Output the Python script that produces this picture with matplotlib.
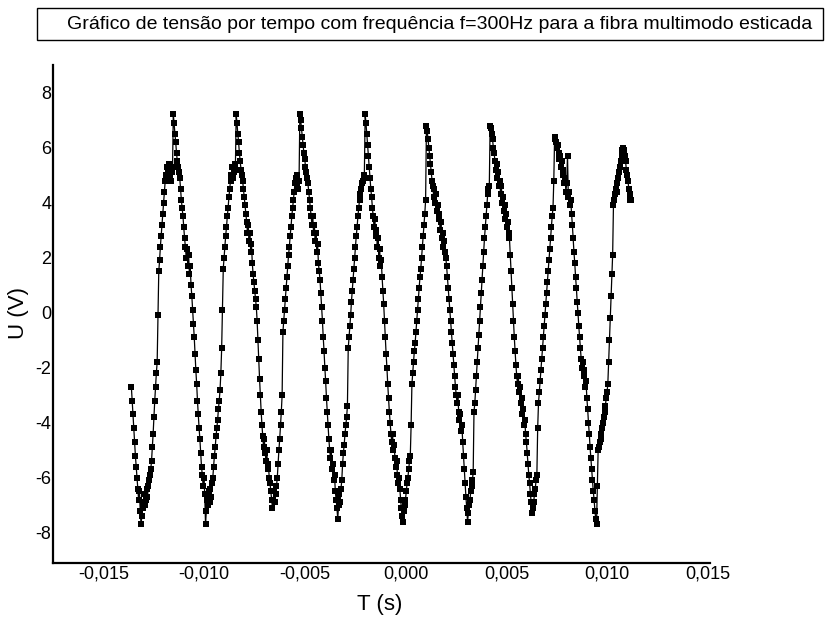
import numpy as np
import matplotlib.pyplot as plt
from matplotlib.patches import Rectangle

# --- data ---
# sampled signal: first sample time and sampling interval (s)
t_start = -0.01361
dt = 0.00004

# voltage samples (V)
u = np.array([
    # start -> trough 1
    -2.7, -3.2, -3.7, -4.2, -4.7, -5.2, -5.6, -6.0, -6.4, -6.8, -6.5, -7.2, -7.7,
    # rise 1
    -7.4, -6.9, -7.1, -6.6, -7.0, -6.8, -6.4, -6.7, -6.3, -6.1, -5.9, -5.7, -5.4,
    -4.9, -4.4, -3.8, -3.2, -2.7, -2.2, -1.8, -0.1, 1.5, 1.9, 2.4, 2.8, 3.2, 3.6,
    4.0, 4.4, 4.8, 5.0, 5.3, 4.9, 5.2, 5.4, 5.0, 4.8, 5.3, 5.1, 7.2,
    # fall 1
    6.9, 6.5, 6.2, 5.8, 5.5, 5.3, 5.1, 4.9, 4.5, 4.1, 3.8, 3.5, 3.1, 2.7, 2.4,
    2.0, 2.3, 1.7, 2.1, 1.4, 1.7, 1.0, 0.6, 0.1, -0.4, -0.9, -1.5, -2.1, -2.6,
    -3.2, -3.7, -4.2, -4.6, -5.1, -5.6, -5.9, -6.3, -6.0, -6.6, -7.7,
    # rise 2
    -7.2, -6.8, -7.0, -6.5, -6.9, -6.4, -6.7, -6.2, -6.0, -5.6, -5.2, -4.9, -4.5,
    -4.2, -3.9, -3.5, -3.2, -2.8, -2.2, -1.3, 0.1, 1.6, 2.0, 2.4, 2.8, 3.1, 3.5,
    3.8, 4.2, 4.5, 4.8, 5.0, 5.3, 4.9, 5.1, 5.4, 5.2, 7.2,
    # fall 2
    6.9, 6.5, 6.2, 5.8, 5.5, 5.2, 5.0, 4.8, 4.5, 4.2, 3.9, 3.6, 3.3, 2.9, 3.2,
    2.6, 2.9, 2.2, 2.5, 1.8, 1.4, 1.1, 0.8, 0.5, 0.2, -0.3, -1.0, -1.7, -2.4,
    -3.0, -3.6, -4.1, -4.5, -4.9, -4.6, -5.1, -5.4, -5.0, -5.7, -5.5, -6.0, -6.2,
    -6.5, -6.8, -7.1,
    # rise 3
    -6.8, -6.5, -6.9, -6.6, -6.3, -6.0, -5.5, -5.0, -4.6, -4.1, -3.6, -3.0, -0.7,
    -0.3, 0.1, 0.5, 0.9, 1.3, 1.7, 2.1, 2.4, 2.8, 3.1, 3.5, 3.8, 4.1, 4.4, 4.7,
    4.9, 4.6, 5.0, 4.5, 4.8, 7.2,
    # fall 3
    7.0, 6.7, 6.4, 6.1, 5.8, 5.6, 5.3, 5.1, 4.9, 4.7, 4.4, 4.1, 3.8, 3.5, 3.2,
    3.5, 2.9, 3.2, 2.6, 2.9, 2.2, 2.5, 1.8, 1.5, 1.2, 0.7, 0.2, -0.3, -0.9, -1.4,
    -2.0, -2.5, -3.1, -3.6, -4.1, -4.6, -5.0, -5.3, -5.0, -5.7, -5.5, -6.1, -5.9,
    -6.5, -6.8, -7.1, -7.5,
    # rise 4
    -7.0, -6.6, -6.9, -6.4, -6.1, -5.5, -5.1, -4.8, -4.4, -4.1, -3.8, -3.4, -1.3,
    -0.9, -0.5, -0.1, 0.4, 0.8, 1.2, 1.6, 2.0, 2.4, 2.8, 3.1, 3.5, 3.8, 4.1, 4.3,
    4.5, 4.7, 4.8, 4.9, 5.0, 7.2,
    # fall 4
    6.9, 6.5, 6.1, 5.7, 5.3, 4.9, 4.5, 4.2, 3.8, 3.5, 3.1, 3.4, 2.8, 3.0, 2.4,
    2.7, 2.0, 2.3, 1.7, 1.9, 1.3, 0.8, 0.3, -0.3, -0.9, -1.5, -2.0, -2.6, -3.1,
    -3.6, -4.0, -4.4, -4.7, -4.4, -5.0, -4.8, -5.3, -5.6, -5.4, -5.9, -6.2, -6.0,
    -6.4, -6.8, -7.1, -7.4, -7.6,
    # rise 5
    -7.2, -7.0, -6.8, -6.5, -6.2, -6.0, -5.7, -5.4, -5.2, -4.1, -2.6, -2.2, -1.8,
    -1.4, -1.1, -0.7, -0.3, 0.1, 0.5, 0.9, 1.3, 1.6, 2.0, 2.4, 2.8, 3.2, 3.6,
    4.1, 6.8,
    # fall 5
    6.6, 6.3, 6.0, 5.7, 5.4, 5.1, 4.8, 4.6, 4.2, 4.5, 4.0, 4.3, 3.7, 3.9, 3.4,
    3.6, 3.0, 3.3, 2.7, 2.9, 2.4, 2.6, 2.2, 2.0, 1.7, 1.3, 0.9, 0.5, 0.1, -0.3,
    -0.7, -1.1, -1.5, -1.9, -2.3, -2.7, -3.0, -3.3, -3.0, -3.6, -3.9, -3.7, -4.3,
    -4.1, -4.7, -5.2, -5.7, -6.2, -6.7, -7.1, -7.6,
    # rise 6
    -7.3, -7.0, -6.8, -6.5, -6.3, -6.1, -5.8, -3.6, -3.3, -2.8, -2.3, -1.8, -1.3,
    -0.8, -0.3, 0.2, 0.7, 1.2, 1.7, 2.2, 2.7, 3.1, 3.5, 3.9, 4.3, 4.5, 4.6, 6.8,
    # fall 6
    6.7, 6.5, 6.3, 6.0, 5.8, 5.5, 5.2, 5.4, 4.9, 5.1, 4.6, 4.8, 4.3, 4.6, 4.0,
    4.2, 3.7, 3.9, 3.4, 3.6, 3.1, 3.3, 2.9, 2.7, 2.1, 1.5, 0.9, 0.3, -0.3, -0.9,
    -1.4, -1.9, -2.3, -2.6, -2.3, -2.9, -2.7, -3.3, -3.1, -3.7, -3.5, -4.1, -3.9,
    -4.4, -4.7, -5.1, -5.5, -5.9, -6.2, -6.6, -6.9, -7.3,
    # rise 7
    -7.1, -6.9, -6.6, -6.4, -6.1, -5.9, -4.2, -3.3, -2.9, -2.5, -2.1, -1.7, -1.3,
    -0.9, -0.5, -0.1, 0.3, 0.7, 1.1, 1.5, 1.9, 2.3, 2.7, 3.1, 3.5, 3.8, 4.8, 6.4,
    # fall 7
    6.3, 6.2, 6.0, 6.1, 5.8, 5.6, 5.7, 5.3, 5.5, 5.0, 5.2, 4.7, 4.9, 4.4, 4.7,
    5.7, 4.2, 4.4, 3.9, 4.1, 3.6, 3.2, 2.7, 2.2, 1.8, 1.3, 0.9, 0.4, 0.0, -0.5,
    -0.9, -1.3, -1.7, -2.0, -1.8, -2.3, -2.1, -2.7, -2.5, -3.1, -3.5, -4.0, -4.4,
    -4.9, -5.3, -5.7, -6.1, -6.5, -6.8, -7.2, -7.5, -7.7,
    # rise 8 and end
    -6.3, -5.0, -4.9, -4.7, -4.6, -4.4, -4.2, -4.0, -3.8, -3.6, -3.4, -3.1, -2.9,
    -2.6, -1.8, -1.0, -0.2, 0.6, 1.4, 2.1, 3.9, 4.1, 4.3, 4.5, 4.4, 4.7, 4.9,
    5.1, 5.3, 5.5, 5.7, 5.9, 6.0, 5.9, 5.7, 5.5, 5.2, 5.0, 4.8, 4.5, 4.3, 4.1,
    4.1,
])
t = t_start + dt * np.arange(len(u))

x_ticks = [-0.015, -0.010, -0.005, 0.000, 0.005, 0.010, 0.015]
x_tick_labels = ['-0,015', '-0,010', '-0,005', '0,000', '0,005', '0,010', '0,015']
y_ticks = [-8, -6, -4, -2, 0, 2, 4, 6, 8]

title = 'Gráfico de tensão por tempo com frequência f=300Hz para a fibra multimodo esticada'

plt.rcParams['font.family'] = ['Liberation Sans', 'DejaVu Sans']
plt.rcParams['axes.unicode_minus'] = False

fig = plt.figure(figsize=(8.25, 6.17), dpi=100)
ax = fig.add_axes([0.0642, 0.0875, 0.7964, 0.8072])

ax.plot(t, u, color='black', linewidth=0.9, marker='s', markersize=4.2,
        markeredgewidth=0, markerfacecolor='black')

ax.set_xlim(-0.0175, 0.0151)
ax.set_ylim(-9.1, 9.0)
ax.set_xticks(x_ticks)
ax.set_xticklabels(x_tick_labels)
ax.set_yticks(y_ticks)
ax.tick_params(length=0, labelsize=13, pad=2)
ax.tick_params(axis='y', pad=1)

for side in ['top', 'right']:
    ax.spines[side].set_visible(False)
for side in ['left', 'bottom']:
    ax.spines[side].set_linewidth(1.6)

# axis labels
fig.text(0.4606, 0.020, 'T (s)', ha='center', va='center', fontsize=16)
fig.text(0.0225, 0.4927, 'U (V)', ha='center', va='center', fontsize=16, rotation=90)

# boxed title
fig.patches.append(Rectangle((0.045, 0.935), 0.953, 0.052, transform=fig.transFigure,
                             fill=False, edgecolor='black', linewidth=1.0))
fig.text(0.533, 0.961, title, ha='center', va='center', fontsize=14)

fig.savefig('out.png', dpi=100)
